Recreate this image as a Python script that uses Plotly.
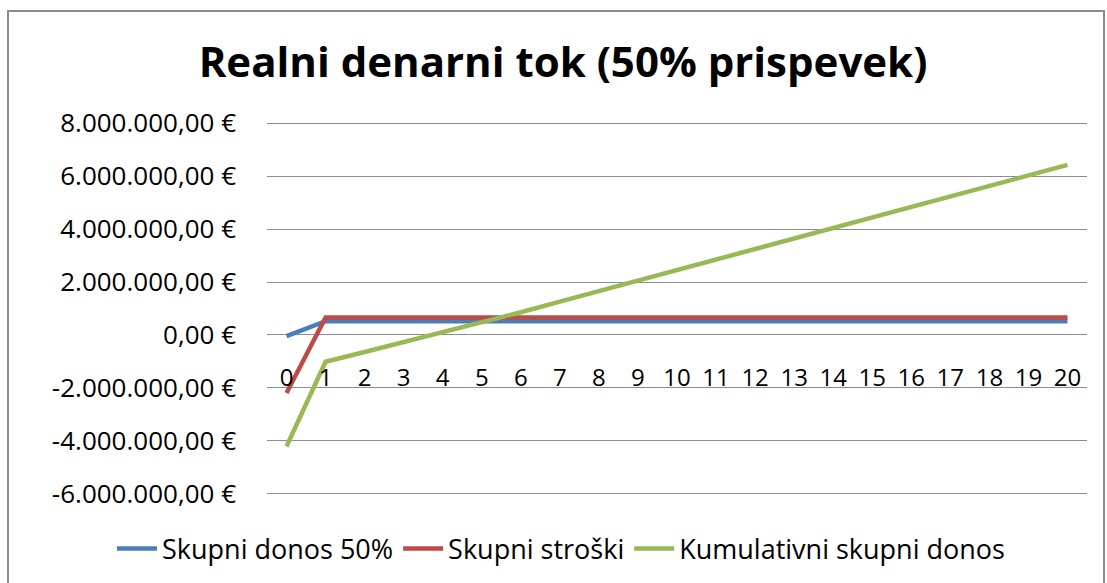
import plotly.graph_objects as go

years = list(range(21))
skupni_donos = [-40000] + [520000] * 20
skupni_stroski = [-2190000] + [660000] * 20
kumulativni = [-4210000, -1010000, -640000, -270000, 100000, 470000, 860000, 1260000,
               1660000, 2060000, 2460000, 2860000, 3260000, 3660000, 4060000, 4460000,
               4860000, 5250000, 5640000, 6030000, 6420000]

series_names = ["Skupni donos 50%", "Skupni stroški", "Kumulativni skupni donos"]
series_colors = ["#4A7EBB", "#BE4B48", "#98B954"]

y_ticks = [-6000000, -4000000, -2000000, 0, 2000000, 4000000, 6000000, 8000000]


def fmt_eur(v):
    s = f"{abs(v):,.2f}".replace(",", "X").replace(".", ",").replace("X", ".")
    return ("-" if v < 0 else "") + s + " €"


y_ticktext = [fmt_eur(v) for v in y_ticks]

FONT = "Open Sans"

fig = go.Figure()
for name, vals, col in zip(series_names, [skupni_donos, skupni_stroski, kumulativni], series_colors):
    fig.add_trace(go.Scatter(x=years, y=vals, mode="lines", name=name,
                             line=dict(color=col, width=4.5)))

W, H = 1107, 583
L, R, T, B = 267, 20, 122, 88
pw, ph = W - L - R, H - T - B
Y0, Y1 = -6040000, 8040000


def px_x(p):
    return (p - L) / pw


def px_y(p):
    return (H - B - p) / ph


fig.update_layout(
    width=W, height=H,
    margin=dict(l=L, r=R, t=T, b=B, autoexpand=False),
    paper_bgcolor="white", plot_bgcolor="white",
    font=dict(family=FONT, color="#000000"),
    title=dict(text="<b>Realni denarni tok (50% prispevek)</b>",
               x=563 / W, xref="container", xanchor="center",
               y=1 - 62 / H, yref="container", yanchor="middle",
               font=dict(size=42, family=FONT, color="#000000")),
    showlegend=True,
    legend=dict(orientation="h", xref="paper", x=px_x(112), xanchor="left",
                yref="paper", y=px_y(549), yanchor="middle",
                font=dict(size=27, family=FONT, color="#000000"),
                itemwidth=40, tracegroupgap=0),
    xaxis=dict(range=[-0.5, 20.5], tickmode="array", tickvals=years,
               ticktext=[str(y) for y in years],
               showgrid=False, zeroline=False, showline=False,
               anchor="free", position=(0 - Y0) / (Y1 - Y0),
               ticks="", ticklabelstandoff=26,
               tickfont=dict(size=24, family=FONT, color="#000000"),
               fixedrange=True),
    yaxis=dict(range=[Y0, Y1], tickmode="array", tickvals=y_ticks,
               ticktext=y_ticktext, showgrid=True, gridcolor="#8C8C8C", gridwidth=1,
               zeroline=False, showline=False, ticks="", ticklabelstandoff=30,
               tickfont=dict(size=26, family=FONT, color="#000000"),
               fixedrange=True),
    shapes=[dict(type="rect", xref="paper", yref="paper",
                 x0=px_x(8), x1=px_x(1104), y0=px_y(600), y1=px_y(11),
                 line=dict(color="#8C8C8C", width=2), fillcolor="rgba(0,0,0,0)",
                 layer="below")],
)

fig.write_html("out.html", config={"displayModeBar": False},
               post_script="document.body.style.margin='0';document.body.style.overflow='hidden';")
